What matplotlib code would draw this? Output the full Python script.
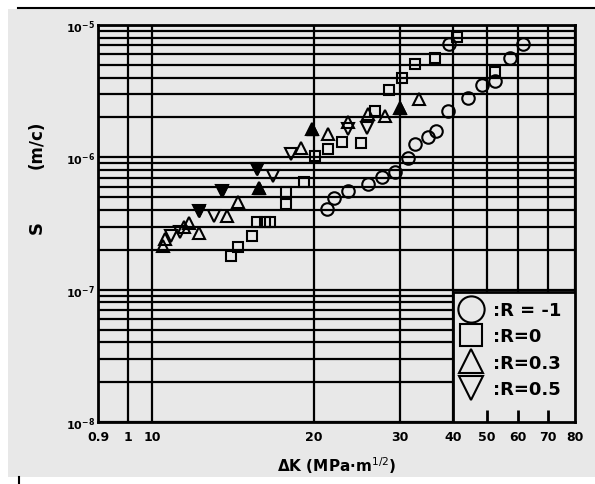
import numpy as np
import matplotlib
matplotlib.use("Agg")
import matplotlib.pyplot as plt
from matplotlib.patches import Rectangle
from matplotlib.lines import Line2D
from matplotlib.ticker import NullFormatter

# datos (dK en MPa m^1/2, S en m/c)
dk_r_m1 = [21.5, 22.3, 24.0, 26.3, 27.9, 29.4, 31.5, 32.8, 35.3, 36.8, 39.1, 39.2, 44.4, 48.5, 52.6, 57.4, 61.7]
s_r_m1 = [4.06e-7, 4.92e-7, 5.56e-7, 6.28e-7, 7.10e-7, 7.74e-7, 9.88e-7, 1.26e-6, 1.42e-6, 1.58e-6,
          2.24e-6, 7.18e-6, 2.81e-6, 3.52e-6, 3.77e-6, 5.63e-6, 7.18e-6]

dk_r_0 = [14.9, 15.3, 16.2, 16.5, 17.0, 17.3, 18.3, 18.3, 19.4, 20.1, 21.6, 23.3, 25.5, 27.1, 28.7,
          30.4, 32.8, 36.6, 41.2, 52.6]
s_r_0 = [1.79e-7, 2.10e-7, 2.54e-7, 3.24e-7, 3.24e-7, 3.24e-7, 4.44e-7, 5.47e-7, 6.51e-7, 1.02e-6,
         1.155e-6, 1.30e-6, 1.28e-6, 2.24e-6, 3.23e-6, 3.98e-6, 5.07e-6, 5.63e-6, 8.12e-6, 4.41e-6]

dk_r_03 = [10.7, 10.8, 12.0, 12.3, 12.9, 14.6, 15.3, 16.6, 19.2, 19.9, 21.6, 24.0, 26.3, 28.3, 30.0, 33.6]
s_r_03 = [2.14e-7, 2.41e-7, 2.97e-7, 3.19e-7, 2.68e-7, 3.60e-7, 4.59e-7, 5.86e-7, 1.18e-6, 1.64e-6,
          1.50e-6, 1.85e-6, 2.12e-6, 2.05e-6, 2.36e-6, 2.76e-6]
rellenos_r_03 = [7, 9, 14]

dk_r_05 = [11.2, 11.7, 12.9, 13.8, 14.3, 16.5, 17.5, 18.6, 24.0, 26.2]
s_r_05 = [2.54e-7, 2.72e-7, 3.93e-7, 3.60e-7, 5.56e-7, 8.16e-7, 7.22e-7, 1.06e-6, 1.64e-6, 1.66e-6]
rellenos_r_05 = [2, 4, 5]

etiquetas = [":R = -1", ":R=0", ":R=0.3", ":R=0.5"]

# eje x del original (no es log real): valor de cada marca y su posicion relativa
x_ticks = [0.9, 1, 10, 20, 30, 40, 50, 60, 70, 80]
x_ticklabels = ["0.9", "1", "10", "20", "30", "40", "50", "60", "70", "80"]
x_pos = [0.0, 0.0629, 0.1132, 0.4528, 0.6331, 0.7442, 0.8155, 0.8805, 0.9434, 1.0]
ticks_leyenda = [50, 60, 70]

fuente = ["Liberation Sans Narrow", "DejaVu Sans"]
gris = "#e8e8e8"


def adelante(x):
    return np.interp(x, x_ticks, x_pos)


def inversa(p):
    return np.interp(p, x_pos, x_ticks)


fig = plt.figure(figsize=(5.95, 4.85), dpi=100)
fig.patch.set_facecolor("white")
# fondo gris de la hoja escaneada
fig.patches.append(Rectangle((8 / 595, 7 / 485), 587 / 595, 468 / 485, transform=fig.transFigure,
                             facecolor=gris, edgecolor="none", zorder=-1))
fig.add_artist(Line2D([18 / 595, 1.0], [476 / 485, 476 / 485], transform=fig.transFigure,
                      color="black", linewidth=1.5))
fig.add_artist(Line2D([19 / 595, 19 / 595], [0, 7 / 485], transform=fig.transFigure,
                      color="black", linewidth=1.5))

ax = fig.add_axes([98 / 595, 62 / 485, 477 / 595, 397 / 485])
ax.set_facecolor(gris)
ax.set_xscale("function", functions=(adelante, inversa))
ax.set_yscale("log")
ax.set_xlim(0.9, 80)
ax.set_ylim(1e-8, 1e-5)

ax.set_xticks(x_ticks)
ax.set_xticklabels(x_ticklabels, family=fuente, fontweight="bold", fontsize=9)
ax.yaxis.set_minor_formatter(NullFormatter())
ax.tick_params(axis="both", which="both", length=0)
ax.tick_params(axis="x", pad=6)
ax.tick_params(axis="y", labelsize=8, pad=2)
for t in ax.get_yticklabels():
    t.set_fontweight("bold")

ax.grid(True, which="both", color="black", linewidth=1.6)
for sp in ax.spines.values():
    sp.set_linewidth(2)

estilo = dict(linestyle="none", markerfacecolor="none", markeredgecolor="black", markeredgewidth=1.5)
l1, = ax.plot(dk_r_m1, s_r_m1, marker="o", markersize=9, **estilo)
l2, = ax.plot(dk_r_0, s_r_0, marker="s", markersize=7.5, **estilo)
l3, = ax.plot(dk_r_03, s_r_03, marker="^", markersize=8, **estilo)
l4, = ax.plot(dk_r_05, s_r_05, marker="v", markersize=8, **estilo)

# algunos triangulos salen rellenos en el escaneo
ax.plot([dk_r_03[i] for i in rellenos_r_03], [s_r_03[i] for i in rellenos_r_03],
        linestyle="none", marker="^", markersize=8, color="black")
ax.plot([dk_r_05[i] for i in rellenos_r_05], [s_r_05[i] for i in rellenos_r_05],
        linestyle="none", marker="v", markersize=8, color="black")

# caja de la leyenda tapando la rejilla
caja = Rectangle((0.744, 0), 0.256, 0.3275, transform=ax.transAxes, facecolor=gris,
                 edgecolor="black", linewidth=2, zorder=3)
ax.add_patch(caja)
ax.vlines(ticks_leyenda, 0, 0.03, transform=ax.get_xaxis_transform(), color="black",
          linewidth=2, zorder=4)

leg = ax.legend([l1, l2, l3, l4], etiquetas, loc="upper left", bbox_to_anchor=(0.752, 0.314),
                frameon=False, markerscale=2.1, handlelength=1.2, handletextpad=0.6,
                labelspacing=0.46, borderpad=0.2, borderaxespad=0,
                prop={"family": fuente, "weight": "bold", "size": 13})
leg.set_zorder(5)

ax.set_xlabel("ΔK (MPa·m$^{1/2}$)", family=fuente, fontweight="bold", fontsize=11, labelpad=8)
fig.text(37 / 595, (485 - 228) / 485, "S", rotation=90, ha="center", va="center",
         family=fuente, fontweight="bold", fontsize=13)
fig.text(37 / 595, (485 - 145) / 485, "(m/c)", rotation=90, ha="center", va="center",
         family=fuente, fontweight="bold", fontsize=12)

fig.savefig("out.png", dpi=100)
